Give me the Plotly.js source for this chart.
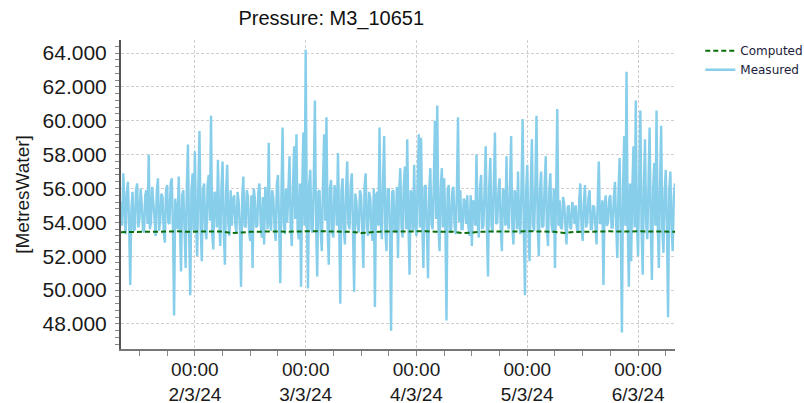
<!DOCTYPE html>
<html>
<head>
<meta charset="utf-8">
<script src="https://cdn.plot.ly/plotly-3.0.1.min.js"></script>
<style>
html,body{margin:0;padding:0;background:#fff;}
#chart{width:804px;height:403px;}
</style>
</head>
<body>
<div id="chart"></div>
<script>
// Measured pressure, 15-minute samples starting 1/3/24 08:00
const measuredStart = '2024-03-01T08:00:00';
const measuredStepMin = 15;
const measuredValues = [
  55.2,53.8,56.9,54.6,53.3,55.7,56.4,53.9,50.3,54.8,55.8,53.5,53.6,55.9,56.3,53.7,54.2,56.0,55.1,53.6,53.4,55.6,55.9,53.9,58.0,53.6,54.0,56.1,55.4,54.3,53.2,55.8,56.6,53.5,54.1,55.7,55.5,53.4,52.8,55.9,56.2,54.0,53.9,56.3,56.6,53.6,48.5,55.4,
  54.5,53.6,56.7,54.2,51.1,55.6,55.9,53.7,51.3,56.0,58.6,53.4,49.7,55.8,56.9,53.5,58.2,54.0,52.0,56.1,59.4,53.8,51.7,55.9,56.3,53.6,53.0,56.2,56.8,54.1,60.3,53.3,52.4,55.8,55.6,53.7,57.7,54.2,52.6,56.0,57.6,53.5,51.5,55.7,57.4,53.9,53.2,55.9,
  53.8,55.3,55.6,53.9,53.4,55.8,55.2,53.6,50.2,55.5,56.7,53.8,53.7,55.9,55.5,53.4,52.9,55.6,51.3,56.0,55.4,53.7,53.8,55.8,56.3,53.9,53.1,55.5,52.7,56.1,55.2,53.6,58.7,54.0,53.5,55.9,55.4,53.7,52.9,56.2,56.8,53.8,50.4,55.7,59.6,53.9,53.3,56.0,
  54.0,55.8,57.9,53.7,52.6,56.1,58.5,54.2,59.2,53.6,53.0,56.3,50.2,55.9,59.3,53.8,64.2,54.6,50.1,56.2,57.1,53.6,53.4,56.4,61.2,53.9,50.8,55.8,55.9,53.5,52.3,56.3,59.2,54.1,60.2,53.7,51.5,56.0,56.5,53.4,53.1,56.2,55.7,53.8,58.1,54.0,49.2,55.9,
  56.6,53.7,52.7,56.0,57.6,53.9,53.6,56.2,56.9,53.5,49.9,55.7,55.2,53.8,53.4,55.9,55.6,53.6,51.3,56.1,56.9,53.7,53.2,55.8,55.4,53.5,52.9,56.0,49.0,55.6,55.8,53.8,59.6,54.0,53.0,56.3,59.1,53.6,52.3,55.9,56.0,53.7,47.6,55.8,55.9,53.6,53.4,56.1,
  51.9,55.8,57.2,53.8,53.1,56.2,57.3,53.6,58.9,54.1,50.9,55.9,55.6,53.5,57.4,53.9,53.2,56.3,59.2,53.7,59.0,54.0,51.3,56.1,56.2,53.6,50.7,55.8,57.2,53.9,53.6,56.2,60.0,54.2,60.9,53.8,52.3,56.0,57.2,53.7,56.6,54.1,48.2,55.9,56.2,53.6,53.4,55.8,
  56.1,53.8,53.3,55.9,60.2,54.0,55.9,53.6,53.6,55.4,55.2,53.9,55.6,53.7,53.2,55.6,52.6,55.3,55.0,53.8,58.0,53.9,53.1,56.0,56.8,53.6,53.8,55.9,58.5,53.7,50.8,56.1,57.8,53.8,53.4,56.2,59.3,53.9,54.0,55.8,56.6,53.6,52.3,56.0,55.7,53.8,57.9,54.0,
  53.6,56.0,59.1,53.8,52.7,55.9,55.6,53.6,57.0,53.9,53.3,56.1,60.1,53.7,49.7,55.8,57.4,53.6,51.7,56.0,58.9,53.8,53.5,56.2,60.3,53.9,52.0,55.9,57.0,53.7,53.8,56.1,57.9,53.6,52.6,55.8,56.9,53.9,53.4,56.0,51.3,55.7,60.7,53.8,55.3,53.7,53.6,55.5,
  55.1,53.8,52.7,54.9,55.0,53.7,53.6,55.2,54.8,53.9,55.0,53.6,53.4,55.3,56.3,53.8,52.9,55.1,56.2,53.7,54.0,55.4,55.9,53.6,53.6,55.0,54.9,53.8,52.7,55.2,57.6,53.9,54.1,55.3,50.3,55.0,55.6,53.8,54.0,55.4,55.6,53.7,53.7,55.5,56.4,53.9,51.9,55.8,
  57.8,53.6,47.5,56.2,59.1,53.8,62.9,54.0,50.2,56.3,51.7,55.9,58.5,53.7,61.2,54.1,52.0,56.4,60.6,53.8,50.9,56.0,58.9,53.9,53.0,56.2,59.6,53.7,50.6,55.9,57.5,53.8,60.6,54.0,51.3,56.1,59.7,53.6,52.2,55.8,57.1,53.9,48.4,55.9,57.0,53.7,52.3,55.6,
  56.3
];

// Computed pressure, 2-hour samples starting 1/3/24 08:00
const computedStart = '2024-03-01T08:00:00';
const computedStepMin = 120;
const computedValues = [
  53.42,53.44,53.43,53.45,53.44,53.46,53.47,53.45,53.46,53.48,53.47,53.46,
  53.36,53.42,53.44,53.45,53.47,53.46,53.45,53.47,53.46,53.48,53.47,53.46,
  53.45,53.44,53.37,53.43,53.45,53.46,53.47,53.48,53.46,53.47,53.45,53.46,
  53.44,53.36,53.42,53.44,53.46,53.45,53.47,53.46,53.48,53.47,53.45,53.44,
  53.37,53.43,53.44,53.46,53.45,53.47,53.46,53.48,53.47,53.46,53.47,53.46,
  53.45
];

const seriesNames = ['Computed', 'Measured'];
const xTickLabelFormat = '%H:%M<br>%-d/%-m/%y';
const yTicks = [48, 50, 52, 54, 56, 58, 60, 62, 64];

function timeAxis(start, stepMin, n) {
  const t0 = new Date(start + 'Z').getTime();
  const out = [];
  for (let i = 0; i < n; i++) {
    out.push(new Date(t0 + i * stepMin * 60000).toISOString().slice(0, 19).replace('T', ' '));
  }
  return out;
}

const measuredX = timeAxis(measuredStart, measuredStepMin, measuredValues.length);
const computedX = timeAxis(computedStart, computedStepMin, computedValues.length);

const traces = [
  {
    x: measuredX, y: measuredValues, name: seriesNames[1], type: 'scatter', mode: 'lines',
    line: {color: '#87CEEB', width: 2.4}, legendrank: 2
  },
  {
    x: computedX, y: computedValues, name: seriesNames[0], type: 'scatter', mode: 'lines',
    line: {color: '#0a6e0a', width: 2, dash: '5px,3px'}, legendrank: 1
  }
];

const baseFont = 'Liberation Sans, Arial, sans-serif';

const layout = {
  width: 804, height: 403,
  paper_bgcolor: '#ffffff', plot_bgcolor: '#ffffff',
  margin: {l: 121, r: 129, t: 40, b: 54, pad: 0},
  title: {
    text: 'Pressure: M3_10651',
    font: {family: baseFont, size: 20, color: '#111'},
    xref: 'container', yref: 'container', x: 0.412, xanchor: 'center', y: 0.955, yanchor: 'middle'
  },
  showlegend: true,
  legend: {
    xref: 'container', yref: 'container',
    x: 0.871, xanchor: 'left', y: 0.91, yanchor: 'top',
    font: {family: 'DejaVu Sans, Verdana, sans-serif', size: 12, color: '#1c1c3a'},
    bgcolor: 'rgba(0,0,0,0)', tracegroupgap: 0, itemwidth: 30, traceorder: 'normal'
  },
  xaxis: {
    type: 'date',
    range: ['2024-03-01 08:00', '2024-03-06 08:00'],
    dtick: 86400000, tick0: '2024-03-02 00:00',
    tickformat: xTickLabelFormat,
    tickfont: {family: baseFont, size: 19, color: '#1a1a1a'},
    ticklabelstandoff: -3,
    ticks: 'outside', ticklen: 5, tickcolor: '#888', tickwidth: 1,
    minor: {dtick: 6 * 3600000, ticks: 'outside', ticklen: 5, tickcolor: '#888', showgrid: false},
    showgrid: true, gridcolor: '#cfcfcf', griddash: '3px,2px', gridwidth: 1,
    showline: true, linecolor: '#777', linewidth: 2,
    zeroline: false, automargin: false, fixedrange: true
  },
  yaxis: {
    range: [46.52, 64.77],
    tickvals: yTicks,
    tickformat: '.3f',
    tickfont: {family: baseFont, size: 21, color: '#1a1a1a'},
    ticklabelstandoff: 4,
    ticks: 'outside', ticklen: 4, tickcolor: '#888', tickwidth: 1,
    minor: {dtick: 0.4, tick0: 48, ticks: 'outside', ticklen: 4, tickcolor: '#888', showgrid: false},
    showgrid: true, gridcolor: '#cfcfcf', griddash: '3px,2px', gridwidth: 1,
    showline: true, linecolor: '#555', linewidth: 2,
    zeroline: false, automargin: false, fixedrange: true,
    title: {text: '[MetresWater]', font: {family: baseFont, size: 19, color: '#1a1a1a'}, standoff: 8}
  }
};

Plotly.newPlot('chart', traces, layout, {displayModeBar: false, staticPlot: true});
</script>
</body>
</html>
